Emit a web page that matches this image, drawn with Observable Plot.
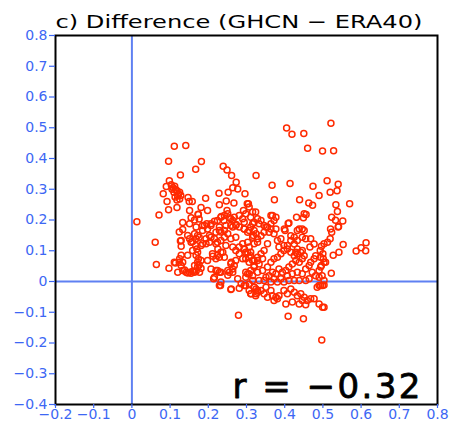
<!DOCTYPE html>
<html>
<head>
<meta charset="utf-8">
<script src="https://cdn.jsdelivr.net/npm/d3@7"></script>
<script src="https://cdn.jsdelivr.net/npm/@observablehq/plot@0.6"></script>
<style>
  html, body { margin: 0; padding: 0; background: #fff; }
  #chart { width: 450px; height: 425px; }
</style>
</head>
<body>
<div id="chart"></div>
<script>
const titleText = "c) Difference (GHCN \u2212 ERA40)";
const corrText = "r = \u22120.32";
const xTicks = [-0.2, -0.1, 0, 0.1, 0.2, 0.3, 0.4, 0.5, 0.6, 0.7, 0.8];
const yTicks = [-0.4, -0.3, -0.2, -0.1, 0, 0.1, 0.2, 0.3, 0.4, 0.5, 0.6, 0.7, 0.8];

// [GHCN-ERA40 x-difference, GHCN-ERA40 y-difference]
const upperScatter = [
  [0.111,0.44],[0.141,0.442],[0.096,0.391],[0.182,0.39],[0.167,0.365],[0.127,0.346],
  [0.239,0.375],[0.249,0.363],[0.261,0.345],[0.273,0.323],[0.325,0.345],[0.405,0.499],
  [0.419,0.479],[0.45,0.481],[0.521,0.515],[0.46,0.433],[0.499,0.424],[0.528,0.425],
  [0.367,0.313],[0.414,0.319],[0.474,0.31],[0.511,0.328],[0.54,0.316],[0.098,0.328],
  [0.09,0.309],[0.264,0.305],[0.277,0.301]
];
const westCluster = [
  [0.082,0.285],[0.092,0.26],[0.096,0.233],[0.118,0.241],[0.071,0.216],[0.013,0.194],
  [0.103,0.315],[0.108,0.305],[0.112,0.31],[0.115,0.298],[0.11,0.29],[0.118,0.295],
  [0.122,0.285],[0.125,0.29],[0.12,0.278],[0.128,0.28],[0.113,0.275],[0.118,0.265],
  [0.125,0.268],[0.105,0.3],[0.147,0.273],[0.158,0.26],[0.15,0.26],[0.151,0.231],
  [0.181,0.241],[0.193,0.271],[0.198,0.231],[0.174,0.219],[0.133,0.192],[0.155,0.207],
  [0.164,0.2],[0.176,0.203],[0.173,0.218],[0.151,0.188],[0.196,0.188],[0.168,0.177],
  [0.185,0.182],[0.207,0.182]
];
const midUpper = [
  [0.216,0.196],[0.228,0.287],[0.252,0.29],[0.247,0.262],[0.267,0.255],[0.229,0.25],
  [0.296,0.285],[0.302,0.253],[0.249,0.231],[0.292,0.231],[0.234,0.211],[0.241,0.198],
  [0.255,0.207],[0.264,0.198],[0.273,0.185],[0.229,0.177],[0.246,0.182],[0.224,0.198],
  [0.233,0.209],[0.242,0.215],[0.251,0.22],[0.259,0.204],[0.268,0.209],[0.281,0.215],
  [0.29,0.204],[0.298,0.22],[0.311,0.209],[0.32,0.193],[0.305,0.253],[0.307,0.242],
  [0.316,0.226],[0.324,0.226],[0.329,0.204],[0.338,0.198],[0.316,0.188],[0.333,0.188],
  [0.355,0.177],[0.364,0.188],[0.368,0.215],[0.372,0.198],[0.377,0.209],[0.373,0.266],
  [0.439,0.266],[0.463,0.255],[0.473,0.248],[0.49,0.28],[0.519,0.29],[0.537,0.295],
  [0.57,0.253],[0.534,0.25],[0.538,0.228],[0.523,0.209],[0.533,0.199],[0.552,0.197],
  [0.541,0.179],[0.431,0.209],[0.449,0.207],[0.456,0.218],[0.409,0.189],[0.438,0.171],
  [0.446,0.171],[0.399,0.171],[0.346,0.182],[0.294,0.193],[0.52,0.171],[0.364,0.215],
  [0.411,0.19],[0.451,0.22],[0.281,0.177],[0.272,0.182],[0.259,0.182],[0.294,0.171],
  [0.307,0.166]
];
const lowerWest = [
  [0.133,0.169],[0.061,0.128],[0.127,0.132],[0.129,0.115],[0.151,0.139],[0.159,0.13],
  [0.168,0.139],[0.176,0.144],[0.194,0.139],[0.203,0.15],[0.22,0.16],[0.229,0.166],
  [0.242,0.166],[0.264,0.177],[0.167,0.117],[0.17,0.106],[0.172,0.095],[0.168,0.085],
  [0.064,0.055],[0.097,0.043],[0.114,0.06],[0.129,0.085],[0.125,0.074],[0.133,0.063],
  [0.146,0.085],[0.129,0.052],[0.138,0.037],[0.151,0.03],[0.168,0.033],[0.146,0.028],
  [0.159,0.033],[0.174,0.074],[0.176,0.054],[0.181,0.043],[0.185,0.123],[0.207,0.144],
  [0.22,0.123],[0.225,0.106],[0.238,0.095],[0.229,0.079],[0.242,0.079],[0.212,0.082],
  [0.22,0.074],[0.207,0.041],[0.22,0.036],[0.229,0.03],[0.214,0.009],[0.232,-0.013],
  [0.251,0.02],[0.255,0.03],[0.264,0.041],[0.268,0.052],[0.26,0.063],[0.26,-0.024],
  [0.279,-0.11],[0.277,0.009],[0.286,-0.007],[0.281,-0.022],[0.294,-0.013],
  [0.164,0.155],[0.172,0.15],[0.146,0.15],[0.155,0.128],[0.159,0.101],[0.185,0.166],
  [0.19,0.182],[0.198,0.171],[0.207,0.188],[0.216,0.139],[0.224,0.128],[0.233,0.133],
  [0.242,0.144],[0.251,0.155],[0.259,0.139],[0.272,0.144],[0.233,0.161],[0.203,0.128],
  [0.194,0.123],[0.181,0.117],[0.211,0.09],[0.224,0.085],[0.233,0.095],[0.246,0.117],
  [0.264,0.112],[0.272,0.101],[0.281,0.09],[0.298,0.095],[0.307,0.079],[0.316,0.068],
  [0.29,0.074],[0.272,0.068],[0.259,0.058],[0.251,0.036],[0.264,0.03],[0.233,0.03],
  [0.224,0.036],[0.216,0.014],[0.233,-0.002],[0.229,-0.013],[0.198,0.068],[0.181,0.068],
  [0.172,0.063],[0.164,0.052],[0.142,0.03],[0.133,0.036],[0.12,0.03],[0.111,0.063],
  [0.124,0.063],[0.129,0.133],[0.124,0.161],[0.177,0.03],[0.164,0.03],[0.155,0.027],
  [0.172,0.047],[0.259,-0.026],[0.32,-0.018],[0.329,-0.029],[0.325,-0.04],[0.316,0.003],
  [0.307,0.025],[0.298,0.03],[0.32,0.052],[0.329,0.068],[0.311,0.095],[0.307,0.112],
  [0.32,0.123],[0.329,0.128],[0.303,0.128],[0.29,0.123],[0.281,0.112],[0.294,0.106],
  [0.316,0.144],[0.325,0.155]
];
const centralCluster = [
  [0.294,0.171],[0.303,0.16],[0.311,0.177],[0.32,0.166],[0.329,0.139],[0.338,0.149],
  [0.346,0.16],[0.359,0.16],[0.351,0.177],[0.364,0.171],[0.377,0.171],[0.372,0.155],
  [0.381,0.133],[0.39,0.139],[0.398,0.117],[0.385,0.112],[0.401,0.166],[0.416,0.149],
  [0.425,0.144],[0.433,0.166],[0.451,0.166],[0.425,0.122],[0.433,0.133],[0.446,0.144],
  [0.455,0.139],[0.416,0.133],[0.407,0.117],[0.433,0.106],[0.446,0.101],[0.429,0.095],
  [0.468,0.139],[0.477,0.122],[0.466,0.112],[0.318,0.15],[0.355,0.123],
  [0.294,0.106],[0.303,0.095],[0.311,0.084],[0.298,0.074],[0.307,0.063],[0.32,0.068],
  [0.329,0.079],[0.338,0.09],[0.346,0.101],[0.342,0.074],[0.333,0.057],[0.32,0.047],
  [0.311,0.036],[0.303,0.025],[0.298,0.014],[0.316,0.019],[0.329,0.03],[0.342,0.036],
  [0.355,0.047],[0.364,0.063],[0.372,0.074],[0.381,0.079],[0.39,0.09],[0.398,0.101],
  [0.407,0.106],[0.416,0.095],[0.425,0.084],[0.433,0.09],[0.442,0.095],[0.451,0.084],
  [0.446,0.074],[0.438,0.063],[0.429,0.068],[0.42,0.057],[0.411,0.047],[0.403,0.036],
  [0.394,0.03],[0.385,0.041],[0.377,0.025],[0.368,0.03],[0.359,0.019],[0.351,0.014],
  [0.372,0.009],[0.39,0.009],[0.407,0.019],[0.42,0.025],[0.433,0.03],[0.446,0.025],
  [0.455,0.041],[0.464,0.052],[0.468,0.063],[0.477,0.074],[0.481,0.084],[0.472,0.03],
  [0.481,0.019],[0.49,0.014],[0.498,0.019],[0.49,0.036],[0.494,0.047],[0.503,0.063],
  [0.496,0.052],[0.501,0.074],[0.507,0.063],[0.522,0.027],[0.464,0.009],[0.455,0.003],
  [0.438,0.003],[0.425,0.003],[0.411,0.003],[0.398,-0.002],[0.381,-0.002],[0.364,-0.002],
  [0.346,0.003],[0.333,0.003],[0.503,0.003],[0.499,-0.013],[0.49,-0.013]
];
const eastEdge = [
  [0.523,0.16],[0.54,0.177],[0.519,0.139],[0.512,0.128],[0.503,0.123],[0.496,0.115],
  [0.493,0.101],[0.5,0.09],[0.494,0.079],[0.553,0.12],[0.542,0.095],[0.527,0.085],
  [0.587,0.099],[0.6,0.11],[0.613,0.126],[0.612,0.1]
];
const belowZero = [
  [0.298,-0.013],[0.307,-0.008],[0.32,-0.019],[0.329,-0.035],[0.338,-0.029],[0.324,-0.046],
  [0.311,-0.04],[0.346,-0.04],[0.355,-0.051],[0.368,-0.046],[0.377,-0.051],[0.385,-0.046],
  [0.381,-0.056],[0.372,-0.062],[0.364,-0.029],[0.351,-0.019],[0.398,-0.029],[0.407,-0.04],
  [0.416,-0.024],[0.425,-0.035],[0.433,-0.046],[0.442,-0.04],[0.451,-0.051],[0.459,-0.062],
  [0.468,-0.056],[0.477,-0.056],[0.446,-0.062],[0.438,-0.073],[0.42,-0.067],[0.403,-0.073],
  [0.455,-0.076],[0.485,-0.019],[0.494,-0.013],[0.503,-0.011],[0.49,-0.073],[0.499,-0.084],
  [0.503,-0.084],[0.409,-0.113],[0.449,-0.121],[0.497,-0.19],[0.307,-0.029],[0.325,-0.024],
  [0.312,-0.04]
];

const points = [upperScatter, westCluster, midUpper, lowerWest, centralCluster, eastEdge, belowZero]
  .flat().map(([dx, dy]) => ({dx, dy}));

const axisBlue = "#3d67f4";
const lineBlue = "#5f80f2";
const dotRed = "#ff2a00";
const font = "DejaVu Sans, sans-serif";

const chart = Plot.plot({
  width: 450,
  height: 425,
  marginLeft: 55,
  marginRight: 13,
  marginTop: 35,
  marginBottom: 21,
  style: {fontFamily: font, background: "#fff"},
  x: {domain: [-0.2, 0.8]},
  y: {domain: [-0.4, 0.8]},
  marks: [
    Plot.ruleX([0], {stroke: lineBlue, strokeWidth: 2}),
    Plot.ruleY([0], {stroke: lineBlue, strokeWidth: 2}),
    Plot.dot(points, {x: "dx", y: "dy", r: 3, stroke: dotRed, strokeWidth: 1.5, fill: "none"}),
    Plot.frame({stroke: "black", strokeWidth: 2}),
    Plot.axisX({ticks: xTicks, tickFormat: d3.format("~g"), color: axisBlue, tickSize: 4, tickPadding: 1, fontSize: 14, label: null, strokeWidth: 1.2}),
    Plot.axisY({ticks: yTicks, tickFormat: d3.format("~g"), color: axisBlue, tickSize: 6, tickPadding: 2, fontSize: 14, label: null, strokeWidth: 1.2}),
    Plot.text([titleText], {frameAnchor: "top-left", textAnchor: "start", lineAnchor: "bottom", dy: -8, fontSize: 18, fill: "black"}),
    Plot.text([corrText], {frameAnchor: "bottom-right", textAnchor: "end", lineAnchor: "bottom", dx: -17, dy: -7, fontSize: 34, fill: "black", stroke: "black", strokeWidth: 0.8})
  ]
});

d3.select(chart).selectAll("text").each(function() {
  const t = this.textContent;
  if (t === titleText) { this.setAttribute("textLength", 367); this.setAttribute("lengthAdjust", "spacingAndGlyphs"); }
  if (t === corrText) { this.setAttribute("textLength", 188); this.setAttribute("lengthAdjust", "spacing"); }
});

document.getElementById("chart").appendChild(chart);
</script>
</body>
</html>
